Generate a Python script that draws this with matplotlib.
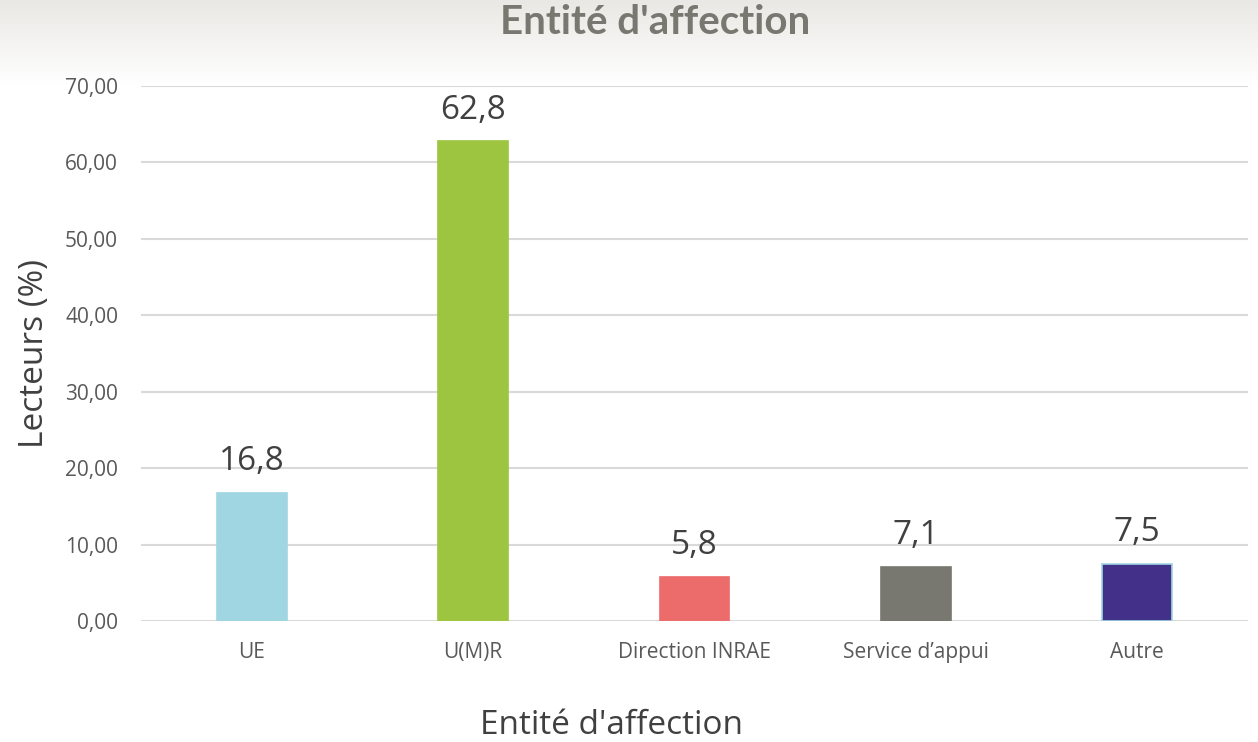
import numpy as np
import matplotlib.pyplot as plt
from matplotlib.ticker import FuncFormatter

categories = ["UE", "U(M)R", "Direction INRAE", "Service d\u2019appui", "Autre"]
values = [16.8, 62.8, 5.8, 7.1, 7.5]
colors = ["#a0d6e2", "#9dc540", "#ec6b6b", "#797870", "#433089"]
edges = ["#a0d6e2", "#9dc540", "#ec6b6b", "#797870", "#a0d6e2"]

plt.rcParams['font.family'] = ['Open Sans', 'DejaVu Sans']

fig = plt.figure(figsize=(12.58, 7.42), dpi=100)

# top banner gradient
bg = fig.add_axes([0, 1 - 85 / 742, 1, 85 / 742], zorder=0)
grad = np.linspace(0, 1, 100).reshape(-1, 1)
top = np.array([0.914, 0.910, 0.894])
rgb = top[None, None, :] * (1 - grad[:, :, None]) + np.ones(3)[None, None, :] * grad[:, :, None]
bg.imshow(rgb, aspect="auto", extent=[0, 1, 0, 1], origin="upper")
bg.axis("off")

ax = fig.add_axes([141 / 1258, 1 - 621 / 742, 1107 / 1258, 535 / 742], zorder=1)
ax.patch.set_alpha(0)
x = np.arange(len(categories))
ax.bar(x, values, width=0.316, color=colors, edgecolor=edges, linewidth=1.2, zorder=3)
for xi, v in zip(x, values):
    ax.text(xi, v + 1.9, f"{v:.1f}".replace(".", ","), ha="center", va="bottom",
            fontsize=24, color="#404040")

ax.set_xlim(-0.5, 4.5)
ax.set_ylim(0, 70)
ax.set_yticks(np.arange(0, 71, 10))
ax.yaxis.set_major_formatter(FuncFormatter(lambda v, p: f"{v:.2f}".replace(".", ",")))
ax.set_xticks(x)
ax.set_xticklabels(categories)
ax.tick_params(length=0, labelsize=15, labelcolor="#595959")
ax.tick_params(axis="x", pad=15)
ax.tick_params(axis="y", pad=16.5)
ax.grid(axis="y", color="#d9d9d9", linewidth=1.5, zorder=0)
for s in ax.spines.values():
    s.set_visible(False)

ax.set_ylabel("Lecteurs (%)", fontsize=24, color="#404040", labelpad=10)
fig.text(611 / 1258, 1 - 725 / 742, "Entit\u00e9 d'affection", ha="center", va="center",
         fontsize=24, color="#404040")
fig.text(655 / 1258, 1 - 22 / 742, "Entit\u00e9 d'affection", ha="center", va="center",
         fontsize=29, fontweight="bold", color="#797870", family=["Lato", "DejaVu Sans"])

fig.savefig("out.png", dpi=100)
